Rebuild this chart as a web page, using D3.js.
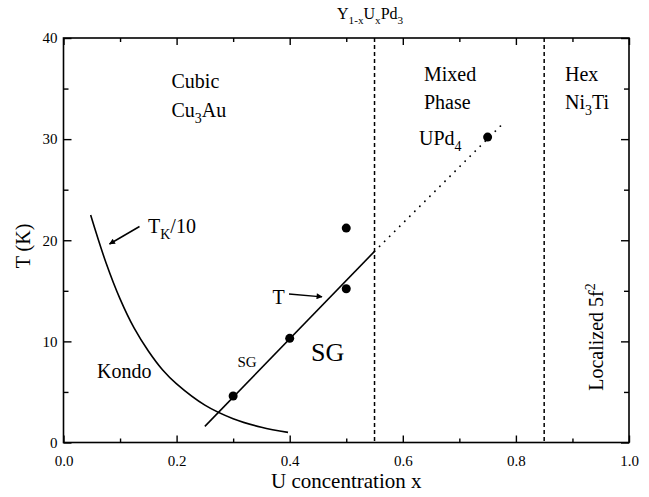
<!DOCTYPE html>
<html>
<head>
<meta charset="utf-8">
<script src="https://cdn.jsdelivr.net/npm/d3@7"></script>
<style>
  html, body { margin: 0; padding: 0; background: #fff; }
  svg { display: block; }
  text { font-family: "Liberation Serif", "Times New Roman", serif; fill: #000; }
</style>
</head>
<body>
<svg id="chart" width="649" height="497"></svg>
<script>
// Y(1-x)U(x)Pd3 phase diagram: spin-glass freezing temperatures and Kondo scale
const xMajorTicks = [0, 0.2, 0.4, 0.6, 0.8, 1.0];
const xMinorTicks = [0.1, 0.3, 0.5, 0.7, 0.9];
const yMajorTicks = [0, 10, 20, 30, 40];
const yMinorTicks = [5, 15, 25, 35];

// measured freezing temperatures (x, T in K)
const sgX = [0.3, 0.4, 0.5, 0.5];
const sgT = [4.6, 10.3, 15.2, 21.2];
// UPd4 point
const upd4X = [0.75];
const upd4T = [30.2];

// fitted freezing line and its extrapolation into the mixed-phase region
const fitX = [0.25, 0.55];
const fitT = [1.6, 18.9];
const extrapX = [0.55, 0.78];
const extrapT = [18.9, 31.7];

// Kondo temperature / 10
const kondoX = [0.048, 0.075, 0.1, 0.125, 0.15, 0.175, 0.2, 0.25, 0.3, 0.35, 0.397];
const kondoT = [22.5, 17.8, 14.2, 11.3, 9.05, 7.2, 5.8, 3.7, 2.36, 1.51, 1.0];

// structural phase boundaries
const boundaries = [0.55, 0.85];

const svg = d3.select("#chart");
const mLeft = 63.5, mRight = 629, mTop = 38, mBottom = 442.5;
const x = d3.scaleLinear().domain([0, 1]).range([mLeft, mRight]);
const y = d3.scaleLinear().domain([0, 40]).range([mBottom, mTop]);

const pair = (xs, ts) => xs.map((v, i) => [v, ts[i]]);

// arrowhead marker
svg.append("defs").append("marker")
  .attr("id", "arrow")
  .attr("viewBox", "0 0 10 10")
  .attr("refX", 9).attr("refY", 5)
  .attr("markerWidth", 10).attr("markerHeight", 6)
  .attr("markerUnits", "userSpaceOnUse")
  .attr("orient", "auto")
  .append("path").attr("d", "M0,0 L10,5 L0,10 Z").attr("fill", "#000");

// frame
svg.append("rect")
  .attr("x", mLeft).attr("y", mTop)
  .attr("width", mRight - mLeft).attr("height", mBottom - mTop)
  .attr("fill", "none").attr("stroke", "#000").attr("stroke-width", 1.6);

// axes with inward ticks
function styleAxis(g) {
  g.attr("font-family", null);
  g.select(".domain").remove();
  g.selectAll(".tick line").attr("stroke", "#000").attr("stroke-width", 1.4);
  g.selectAll("text").style("font-size", "15px")
    .style("font-family", "'Liberation Serif', 'Times New Roman', serif");
}
const fmtX = d3.format(".1f");
svg.append("g").attr("transform", `translate(0,${mBottom})`)
  .call(d3.axisBottom(x).tickValues(xMajorTicks).tickSize(-7).tickPadding(13).tickFormat(fmtX))
  .call(styleAxis);
svg.append("g").attr("transform", `translate(0,${mBottom})`)
  .call(d3.axisBottom(x).tickValues(xMinorTicks).tickSize(-4).tickFormat(""))
  .call(styleAxis);
svg.append("g").attr("transform", `translate(0,${mTop})`)
  .call(d3.axisTop(x).tickValues(xMajorTicks).tickSize(-7).tickFormat(""))
  .call(styleAxis);
svg.append("g").attr("transform", `translate(0,${mTop})`)
  .call(d3.axisTop(x).tickValues(xMinorTicks).tickSize(-4).tickFormat(""))
  .call(styleAxis);
svg.append("g").attr("transform", `translate(${mLeft},0)`)
  .call(d3.axisLeft(y).tickValues(yMajorTicks).tickSize(-8).tickPadding(6).tickFormat(d3.format("d")))
  .call(styleAxis);
svg.append("g").attr("transform", `translate(${mLeft},0)`)
  .call(d3.axisLeft(y).tickValues(yMinorTicks).tickSize(-5).tickFormat(""))
  .call(styleAxis);
svg.append("g").attr("transform", `translate(${mRight},0)`)
  .call(d3.axisRight(y).tickValues(yMajorTicks).tickSize(-8).tickFormat(""))
  .call(styleAxis);
svg.append("g").attr("transform", `translate(${mRight},0)`)
  .call(d3.axisRight(y).tickValues(yMinorTicks).tickSize(-5).tickFormat(""))
  .call(styleAxis);

// phase boundaries
svg.selectAll("line.boundary").data(boundaries).join("line")
  .attr("class", "boundary")
  .attr("x1", d => x(d)).attr("x2", d => x(d))
  .attr("y1", mTop).attr("y2", mBottom)
  .attr("stroke", "#000").attr("stroke-width", 1.5)
  .attr("stroke-dasharray", "4,3");

const line = d3.line().x(d => x(d[0])).y(d => y(d[1]));

// Kondo curve
svg.append("path")
  .attr("d", d3.line().x(d => x(d[0])).y(d => y(d[1])).curve(d3.curveCatmullRom)(pair(kondoX, kondoT)))
  .attr("fill", "none").attr("stroke", "#000").attr("stroke-width", 1.6);

// freezing line
svg.append("path")
  .attr("d", line(pair(fitX, fitT)))
  .attr("fill", "none").attr("stroke", "#000").attr("stroke-width", 1.6);

// extrapolation (dotted)
svg.append("path")
  .attr("d", line(pair(extrapX, extrapT)))
  .attr("fill", "none").attr("stroke", "#000").attr("stroke-width", 1.8)
  .attr("stroke-linecap", "round").attr("stroke-dasharray", "0.1,7");

// data points
svg.selectAll("circle.sg").data(pair(sgX, sgT).concat(pair(upd4X, upd4T))).join("circle")
  .attr("class", "sg")
  .attr("cx", d => x(d[0])).attr("cy", d => y(d[1]))
  .attr("r", 4.5).attr("fill", "#000");

// arrows pointing at curves
svg.append("line")
  .attr("x1", 139.5).attr("y1", 226.5).attr("x2", 109.5).attr("y2", 244)
  .attr("stroke", "#000").attr("stroke-width", 1.5).attr("marker-end", "url(#arrow)");
svg.append("line")
  .attr("x1", 289).attr("y1", 294).attr("x2", 322).attr("y2", 296.8)
  .attr("stroke", "#000").attr("stroke-width", 1.3).attr("marker-end", "url(#arrow)");

// text helper: parts = [[text, kind]] kind: "n" normal, "sub", "sup"
function rich(xp, yp, parts, size, anchor) {
  const t = svg.append("text").attr("x", xp).attr("y", yp)
    .style("font-size", size + "px").attr("text-anchor", anchor || "start");
  let shift = 0;
  parts.forEach(([s, kind]) => {
    let target = 0, fs = size;
    if (kind === "sub") { target = size * 0.3; fs = size * 0.7; }
    if (kind === "sup") { target = -size * 0.4; fs = size * 0.7; }
    t.append("tspan").attr("dy", target - shift).style("font-size", fs + "px").text(s);
    shift = target;
  });
  return t;
}

// title
rich(337, 19, [["Y", "n"], ["1-x", "sub"], ["U", "n"], ["x", "sub"], ["Pd", "n"], ["3", "sub"]], 16);

// axis titles
svg.append("text").attr("x", x(0.5)).attr("y", 488)
  .attr("text-anchor", "middle").style("font-size", "21px").text("U concentration x");
svg.append("text").attr("transform", "translate(30,246) rotate(-90)")
  .attr("text-anchor", "middle").style("font-size", "20px").text("T (K)");

// region labels
rich(171.5, 88, [["Cubic", "n"]], 20);
rich(171.5, 117, [["Cu", "n"], ["3", "sub"], ["Au", "n"]], 20);
rich(424, 81, [["Mixed", "n"]], 20);
rich(424, 109, [["Phase", "n"]], 20);
rich(565, 81, [["Hex", "n"]], 20);
rich(565, 109, [["Ni", "n"], ["3", "sub"], ["Ti", "n"]], 20);
rich(419, 145, [["UPd", "n"], ["4", "sub"]], 20);
rich(148, 233, [["T", "n"], ["K", "sub"], ["/10", "n"]], 20);
rich(272.5, 304, [["T", "n"]], 20);
rich(97, 378, [["Kondo", "n"]], 20);
rich(237.5, 366.5, [["SG", "n"]], 15);
rich(311, 361, [["SG", "n"]], 26);

// rotated label at the right
const loc = svg.append("text").attr("transform", "translate(603,337) rotate(-90)")
  .attr("text-anchor", "middle").style("font-size", "20px");
loc.append("tspan").text("Localized 5f");
loc.append("tspan").attr("dy", -8).style("font-size", "14px").text("2");
</script>
</body>
</html>
